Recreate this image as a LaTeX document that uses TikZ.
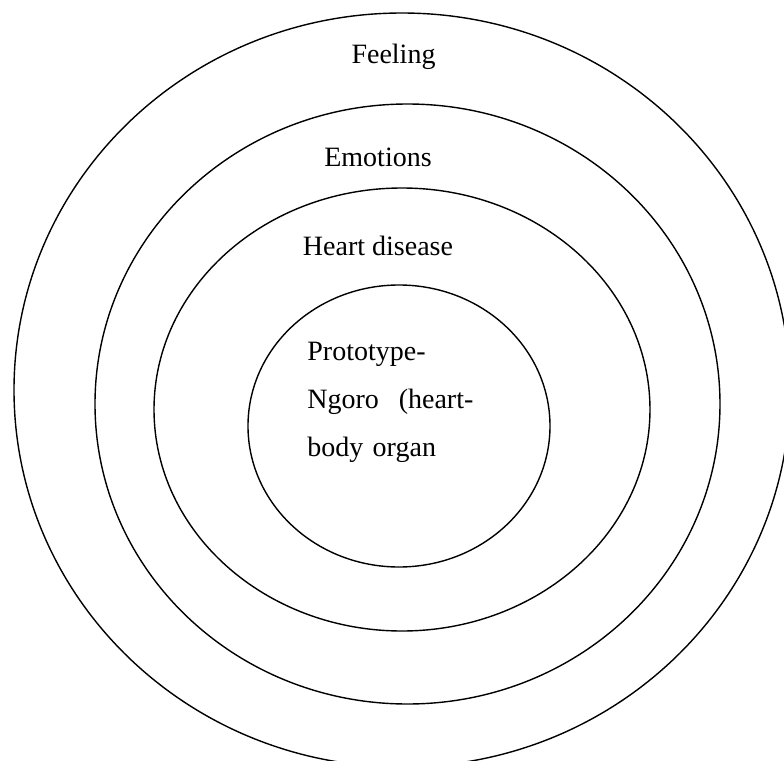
\documentclass[tikz,border=0pt]{standalone}
\usepackage{fontspec}
\setmainfont{Liberation Serif}
\usetikzlibrary{positioning}

\begin{document}
\begin{tikzpicture}[x=0.5pt, y=-0.5pt,
  ring/.style={draw, line width=0.7pt},
  lbl/.style={inner sep=0pt, font=\fontsize{14}{24}\selectfont}]
  \clip (0,0) rectangle (784,761);
  % centres of the four rings, outer to inner
  \coordinate (feelc) at (402,390);
  \coordinate (emoc) at (407.5,404);
  \coordinate (disc) at (402,409.5);
  \coordinate (protc) at (399,426);
  \draw[ring] (feelc) ellipse [x radius=388, y radius=377];
  \draw[ring] (emoc) ellipse [x radius=312.5, y radius=300];
  \draw[ring] (disc) ellipse [x radius=248, y radius=221.5];
  \draw[ring] (protc) ellipse [x radius=151, y radius=141];
  \node[lbl, anchor=base] (feeling) at (393.5,63) {Feeling};
  \node[lbl, anchor=base] (emotions) at (378,166) {Emotions};
  \node[lbl, anchor=base] (disease) at (378,255) {Heart disease};
  \node[lbl, anchor=base west, text width=83pt, align=left] (proto) at (307,360)
    {Prototype-\\Ngoro\hfill(heart-\\body organ};
\end{tikzpicture}
\end{document}
